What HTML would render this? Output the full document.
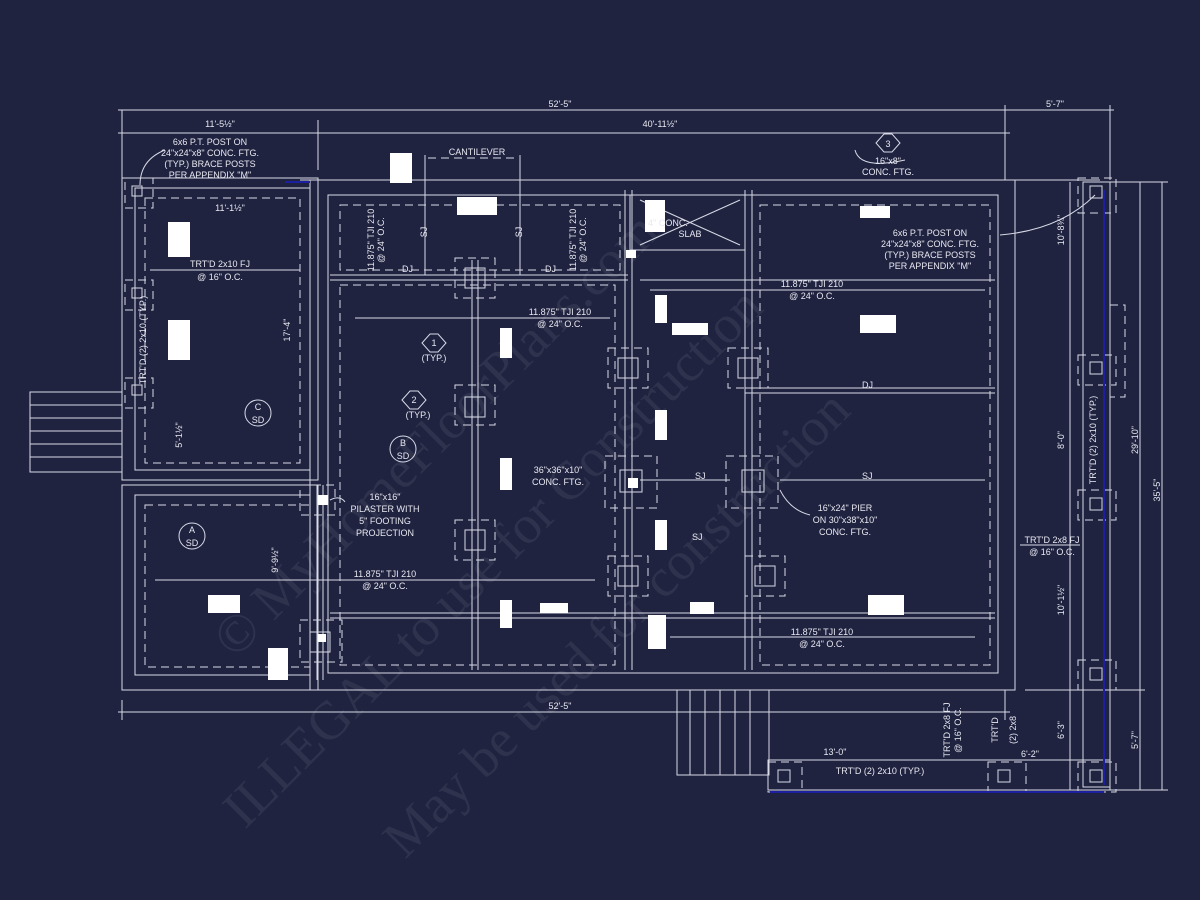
<!DOCTYPE html>
<html><head><meta charset="utf-8"><style>
html,body{margin:0;padding:0;background:#1f2340;}
svg{display:block}
text{font-family:"Liberation Sans",sans-serif;fill:#e8e8f0;font-size:9px}
text.wm{font-family:"Liberation Serif",serif;font-size:54px;fill:#ffffff;fill-opacity:0.07}
</style></head><body>
<svg width="1200" height="900" viewBox="0 0 1200 900" xmlns="http://www.w3.org/2000/svg">
<rect width="1200" height="900" fill="#1f2340"/>
<g stroke="#d8dae6" stroke-width="1" fill="none">
<line x1="122" y1="110" x2="122" y2="180"/><line x1="1005" y1="105" x2="1005" y2="180"/><line x1="1110" y1="105" x2="1110" y2="180"/><line x1="318" y1="120" x2="318" y2="170"/>
<line x1="118" y1="110" x2="1114" y2="110"/>
<line x1="118" y1="133" x2="1010" y2="133"/>
<line x1="118" y1="712" x2="1010" y2="712"/><line x1="122" y1="700" x2="122" y2="720"/><line x1="1005" y1="690" x2="1005" y2="720"/>
<line x1="1140" y1="182" x2="1140" y2="790"/><line x1="1162" y1="182" x2="1162" y2="790"/>
<line x1="1095" y1="182" x2="1168" y2="182"/><line x1="1095" y1="790" x2="1168" y2="790"/><line x1="1025" y1="690" x2="1145" y2="690"/>
<line x1="1070" y1="182" x2="1070" y2="790"/>
<rect x="310" y="180" width="705" height="510"/>
<rect x="122" y="178" width="196" height="302"/>
<rect x="122" y="485" width="196" height="205"/>
<rect x="328" y="195" width="670" height="478"/>
<rect x="135" y="188" width="175" height="282"/>
<rect x="135" y="495" width="175" height="180"/>
<rect x="1083" y="182" width="27" height="605"/>
<rect x="768" y="760" width="342" height="30"/>
<line x1="300" y1="180" x2="1100" y2="180"/>
<line x1="330" y1="275" x2="628" y2="275"/><line x1="330" y1="280" x2="628" y2="280"/>
<line x1="640" y1="280" x2="995" y2="280"/><line x1="745" y1="388" x2="995" y2="388"/><line x1="745" y1="393" x2="995" y2="393"/>
<line x1="330" y1="613" x2="995" y2="613"/><line x1="330" y1="618" x2="995" y2="618"/>
<line x1="472" y1="260" x2="472" y2="670"/><line x1="478" y1="260" x2="478" y2="670"/>
<line x1="625" y1="190" x2="625" y2="670"/><line x1="632" y1="190" x2="632" y2="670"/>
<line x1="745" y1="190" x2="745" y2="670"/><line x1="752" y1="190" x2="752" y2="670"/>
<line x1="317" y1="485" x2="317" y2="680"/><line x1="323" y1="485" x2="323" y2="680"/>
<line x1="425" y1="155" x2="425" y2="275"/><line x1="520" y1="155" x2="520" y2="275"/>
<line x1="640" y1="195" x2="745" y2="195"/><rect x="630" y="195" width="115" height="55"/>
<line x1="640" y1="200" x2="740" y2="245"/><line x1="740" y1="200" x2="640" y2="245"/>
<rect x="30" y="392" width="92" height="80"/>
<line x1="30" y1="405" x2="122" y2="405"/><line x1="30" y1="418" x2="122" y2="418"/><line x1="30" y1="431" x2="122" y2="431"/><line x1="30" y1="444" x2="122" y2="444"/><line x1="30" y1="457" x2="122" y2="457"/>
<rect x="677" y="690" width="92" height="85"/>
<line x1="690" y1="690" x2="690" y2="775"/><line x1="705" y1="690" x2="705" y2="775"/><line x1="720" y1="690" x2="720" y2="775"/><line x1="735" y1="690" x2="735" y2="775"/><line x1="750" y1="690" x2="750" y2="775"/>
<line x1="150" y1="270" x2="300" y2="270"/><line x1="355" y1="318" x2="610" y2="318"/><line x1="650" y1="290" x2="985" y2="290"/>
<line x1="155" y1="580" x2="595" y2="580"/><line x1="670" y1="637" x2="975" y2="637"/><line x1="1020" y1="545" x2="1080" y2="545"/>
<line x1="640" y1="480" x2="730" y2="480"/><line x1="780" y1="480" x2="985" y2="480"/>
</g>
<g stroke="#d8dae6" stroke-width="1" fill="none" stroke-dasharray="8,5">
<rect x="340" y="205" width="280" height="65"/><rect x="760" y="205" width="230" height="460"/>
<rect x="340" y="285" width="275" height="380"/><rect x="145" y="505" width="165" height="162"/>
<rect x="145" y="198" width="155" height="265"/>
<rect x="455" y="258" width="40" height="40"/><rect x="455" y="385" width="40" height="40"/><rect x="455" y="520" width="40" height="40"/>
<rect x="608" y="348" width="40" height="40"/><rect x="728" y="348" width="40" height="40"/><rect x="605" y="456" width="52" height="52"/><rect x="726" y="456" width="52" height="52"/>
<rect x="608" y="556" width="40" height="40"/><rect x="745" y="556" width="40" height="40"/><rect x="300" y="620" width="42" height="42"/><rect x="300" y="485" width="35" height="30"/>
<rect x="1078" y="178" width="38" height="35"/><rect x="1078" y="355" width="38" height="30"/><rect x="1078" y="490" width="38" height="30"/><rect x="1078" y="660" width="38" height="30"/><rect x="1078" y="762" width="38" height="30"/><rect x="988" y="762" width="38" height="30"/><rect x="768" y="762" width="34" height="30"/>
<rect x="125" y="178" width="28" height="30"/><rect x="125" y="280" width="28" height="30"/><rect x="125" y="378" width="28" height="30"/>
<rect x="1110" y="305" width="15" height="92"/><line x1="428" y1="158" x2="515" y2="158"/>
</g>
<g stroke="#d8dae6" fill="none">
<rect x="465" y="268" width="20" height="20"/><rect x="465" y="397" width="20" height="20"/><rect x="465" y="530" width="20" height="20"/><rect x="618" y="358" width="20" height="20"/><rect x="738" y="358" width="20" height="20"/><rect x="620" y="470" width="22" height="22"/><rect x="742" y="470" width="22" height="22"/><rect x="618" y="566" width="20" height="20"/><rect x="755" y="566" width="20" height="20"/><rect x="310" y="632" width="20" height="20"/>
<rect x="1090" y="186" width="12" height="12"/><rect x="1090" y="362" width="12" height="12"/><rect x="1090" y="498" width="12" height="12"/><rect x="1090" y="668" width="12" height="12"/><rect x="1090" y="770" width="12" height="12"/><rect x="998" y="770" width="12" height="12"/><rect x="778" y="770" width="12" height="12"/>
<rect x="132" y="186" width="10" height="10"/><rect x="132" y="288" width="10" height="10"/><rect x="132" y="385" width="10" height="10"/>
<polygon points="422,343 430,334 438,334 446,343 438,352 430,352"/><polygon points="402,400 410,391 418,391 426,400 418,409 410,409"/><polygon points="876,143 884,134 892,134 900,143 892,152 884,152"/>
<circle cx="258" cy="413" r="13"/><circle cx="403" cy="449" r="13"/><circle cx="192" cy="536" r="13"/>
<path d="M330,500 Q340,495 345,502"/><path d="M780,490 Q790,510 810,515"/><path d="M1000,235 Q1060,230 1095,195"/><path d="M165,150 Q140,160 140,185"/><path d="M905,160 Q860,170 855,150"/>
</g>
<g stroke="#1b1fa0" stroke-width="2"><line x1="1104" y1="190" x2="1104" y2="785"/><line x1="770" y1="792" x2="1104" y2="792"/><line x1="285" y1="182" x2="310" y2="182"/></g>
<g fill="#ffffff">
<rect x="390" y="153" width="22" height="30"/><rect x="457" y="197" width="40" height="18"/><rect x="168" y="222" width="22" height="35"/><rect x="168" y="320" width="22" height="40"/><rect x="645" y="200" width="20" height="32"/><rect x="860" y="206" width="30" height="12"/><rect x="655" y="295" width="12" height="28"/><rect x="672" y="323" width="36" height="12"/><rect x="860" y="315" width="36" height="18"/><rect x="500" y="328" width="12" height="30"/><rect x="655" y="410" width="12" height="30"/><rect x="500" y="458" width="12" height="32"/><rect x="628" y="478" width="10" height="10"/><rect x="318" y="495" width="10" height="10"/><rect x="655" y="520" width="12" height="30"/><rect x="208" y="595" width="32" height="18"/><rect x="540" y="603" width="28" height="10"/><rect x="500" y="600" width="12" height="28"/><rect x="690" y="602" width="24" height="12"/><rect x="868" y="595" width="36" height="20"/><rect x="648" y="615" width="18" height="34"/><rect x="268" y="648" width="20" height="32"/><rect x="626" y="250" width="10" height="8"/><rect x="318" y="634" width="8" height="8"/>
</g>
<text x="560" y="107" text-anchor="middle">52'-5"</text>
<text x="1055" y="107" text-anchor="middle">5'-7"</text>
<text x="660" y="127" text-anchor="middle">40'-11½"</text>
<text x="220" y="127" text-anchor="middle">11'-5½"</text>
<text x="230" y="211" text-anchor="middle">11'-1½"</text>
<text x="560" y="709" text-anchor="middle">52'-5"</text>
<text x="477" y="155" text-anchor="middle">CANTILEVER</text>
<text x="210" y="145" text-anchor="middle">6x6 P.T. POST ON</text><text x="210" y="156" text-anchor="middle">24"x24"x8" CONC. FTG.</text><text x="210" y="167" text-anchor="middle">(TYP.) BRACE POSTS</text><text x="210" y="178" text-anchor="middle">PER APPENDIX "M"</text>
<text x="888" y="147" text-anchor="middle" font-size="8">3</text>
<text x="888" y="164" text-anchor="middle">16"x8"</text><text x="888" y="175" text-anchor="middle">CONC. FTG.</text>
<text x="930" y="236" text-anchor="middle">6x6 P.T. POST ON</text><text x="930" y="247" text-anchor="middle">24"x24"x8" CONC. FTG.</text><text x="930" y="258" text-anchor="middle">(TYP.) BRACE POSTS</text><text x="930" y="269" text-anchor="middle">PER APPENDIX "M"</text>
<text x="668" y="226" text-anchor="middle">4" CONC.</text><text x="690" y="237" text-anchor="middle">SLAB</text>
<text x="220" y="267" text-anchor="middle">TRT'D 2x10 FJ</text><text x="220" y="280" text-anchor="middle">@ 16" O.C.</text>
<text x="560" y="315" text-anchor="middle">11.875" TJI 210</text><text x="560" y="327" text-anchor="middle">@ 24" O.C.</text>
<text x="812" y="287" text-anchor="middle">11.875" TJI 210</text><text x="812" y="299" text-anchor="middle">@ 24" O.C.</text>
<text x="402" y="272">DJ</text><text x="545" y="272">DJ</text><text x="862" y="388">DJ</text>
<text x="695" y="479">SJ</text><text x="862" y="479">SJ</text><text x="692" y="540">SJ</text>
<text x="434" y="346" text-anchor="middle" font-size="8">1</text><text x="434" y="361" text-anchor="middle">(TYP.)</text>
<text x="414" y="403" text-anchor="middle" font-size="8">2</text><text x="418" y="418" text-anchor="middle">(TYP.)</text>
<text x="258" y="410" text-anchor="middle">C</text><text x="258" y="423" text-anchor="middle">SD</text>
<text x="403" y="446" text-anchor="middle">B</text><text x="403" y="459" text-anchor="middle">SD</text>
<text x="192" y="533" text-anchor="middle">A</text><text x="192" y="546" text-anchor="middle">SD</text>
<text x="558" y="473" text-anchor="middle">36"x36"x10"</text><text x="558" y="485" text-anchor="middle">CONC. FTG.</text>
<text x="385" y="500" text-anchor="middle">16"x16"</text><text x="385" y="512" text-anchor="middle">PILASTER WITH</text><text x="385" y="524" text-anchor="middle">5" FOOTING</text><text x="385" y="536" text-anchor="middle">PROJECTION</text>
<text x="845" y="511" text-anchor="middle">16"x24" PIER</text><text x="845" y="523" text-anchor="middle">ON 30"x38"x10"</text><text x="845" y="535" text-anchor="middle">CONC. FTG.</text>
<text x="385" y="577" text-anchor="middle">11.875" TJI 210</text><text x="385" y="589" text-anchor="middle">@ 24" O.C.</text>
<text x="822" y="635" text-anchor="middle">11.875" TJI 210</text><text x="822" y="647" text-anchor="middle">@ 24" O.C.</text>
<text x="1052" y="543" text-anchor="middle">TRT'D 2x8 FJ</text><text x="1052" y="555" text-anchor="middle">@ 16" O.C.</text>
<text x="835" y="755" text-anchor="middle">13'-0"</text><text x="1030" y="757" text-anchor="middle">6'-2"</text>
<text x="880" y="774" text-anchor="middle">TRT'D (2) 2x10 (TYP.)</text>
<text transform="translate(290,330) rotate(-90)" text-anchor="middle">17'-4"</text>
<text transform="translate(182,435) rotate(-90)" text-anchor="middle">5'-1½"</text>
<text transform="translate(146,340) rotate(-90)" text-anchor="middle">TRT'D (2) 2x10 (TYP.)</text>
<text transform="translate(278,560) rotate(-90)" text-anchor="middle">9'-9½"</text>
<text transform="translate(374,240) rotate(-90)" text-anchor="middle">11.875" TJI 210</text><text transform="translate(384,240) rotate(-90)" text-anchor="middle">@ 24" O.C.</text>
<text transform="translate(576,240) rotate(-90)" text-anchor="middle">11.875" TJI 210</text><text transform="translate(586,240) rotate(-90)" text-anchor="middle">@ 24" O.C.</text>
<text transform="translate(427,232) rotate(-90)" text-anchor="middle">SJ</text><text transform="translate(522,232) rotate(-90)" text-anchor="middle">SJ</text>
<text transform="translate(1064,230) rotate(-90)" text-anchor="middle">10'-8¾"</text>
<text transform="translate(1064,440) rotate(-90)" text-anchor="middle">8'-0"</text>
<text transform="translate(1064,600) rotate(-90)" text-anchor="middle">10'-1½"</text>
<text transform="translate(1064,730) rotate(-90)" text-anchor="middle">6'-3"</text>
<text transform="translate(1096,440) rotate(-90)" text-anchor="middle">TRT'D (2) 2x10 (TYP.)</text>
<text transform="translate(1138,440) rotate(-90)" text-anchor="middle">29'-10"</text>
<text transform="translate(1160,490) rotate(-90)" text-anchor="middle">35'-5"</text>
<text transform="translate(1138,740) rotate(-90)" text-anchor="middle">5'-7"</text>
<text transform="translate(950,730) rotate(-90)" text-anchor="middle">TRT'D 2x8 FJ</text><text transform="translate(961,730) rotate(-90)" text-anchor="middle">@ 16" O.C.</text>
<text transform="translate(998,730) rotate(-90)" text-anchor="middle">TRT'D</text><text transform="translate(1016,730) rotate(-90)" text-anchor="middle">(2) 2x8</text>
<text class="wm" transform="translate(235,660) rotate(-45)">© MyHomeFloorPlans.com</text>
<text class="wm" transform="translate(245,830) rotate(-45)">ILLEGAL to use for Construction</text>
<text class="wm" transform="translate(405,860) rotate(-45)">May be used for construction</text>
</svg>
</body></html>
